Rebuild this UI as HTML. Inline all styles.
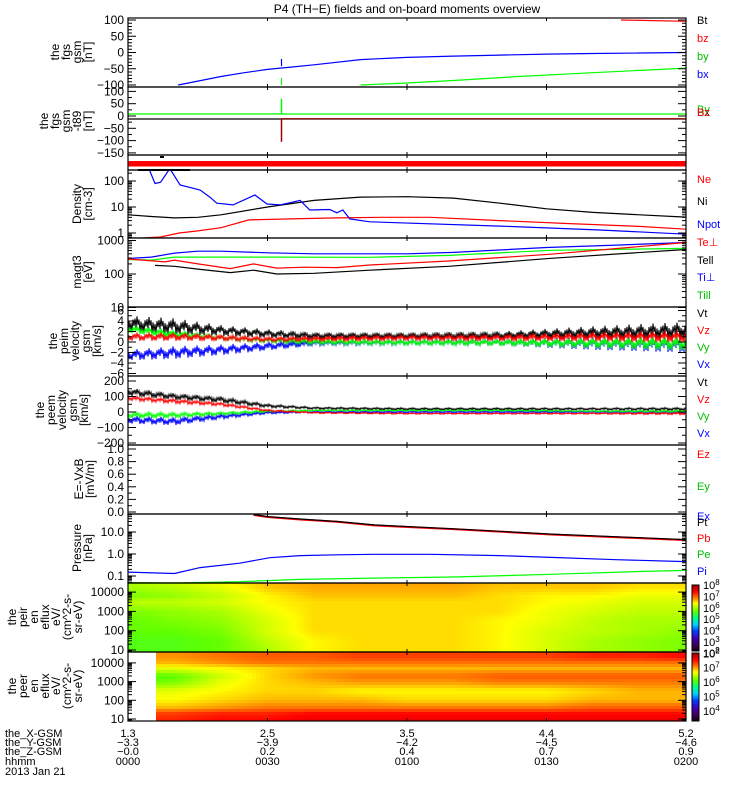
<!DOCTYPE html>
<html><head><meta charset="utf-8"><style>
html,body{margin:0;padding:0;background:#fff}
svg{display:block;font-family:"Liberation Sans",sans-serif}
</style></head><body>
<svg id="chart" width="750" height="800" viewBox="0 0 750 800" xmlns="http://www.w3.org/2000/svg">
<rect width="750" height="800" fill="#fff"/>
<text x="407" y="13" font-size="12" text-anchor="middle">P4 (TH−E) fields and on-board moments overview</text>
<g id="layer"></g>
</svg>
<script>
// ---------- data (time in minutes from 00:00) ----------
const timeTicks = [0, 30, 60, 90, 120];
const posX = ['1.3','2.5','3.5','4.4','5.2'];
const posY = ['-3.3','-3.9','-4.2','-4.5','-4.6'];
const posZ = ['-0.0','0.2','0.4','0.7','0.9'];
const hhmm = ['0000','0030','0100','0130','0200'];

const bxT = [10.8,15,20,25,30,35,40,50,60,70,80,90,100,110,120];
const bxV = [-100,-88,-74,-62,-52,-45,-38,-22,-15,-11,-8,-5,-3,-1.5,0];
const byT = [50,60,70,84,100,120];
const byV = [-100,-94,-86,-74,-62,-48];
const bzT = [106,120];
const bzV = [100,96];

const dBgT = [0,33,33,120];
const dByV = [8,8,8,8];
const dBxV = [-12,-12,-12,-12];
const spikeT = 33;
const spikeBy = 70;
const spikeBz = -105;

const niT = [0,5,10,15,20,30,40,50,60,70,80,90,100,110,120];
const niV = [5,4.3,3.8,4,5,10,18,24,25,22,14,8.5,6.2,5,4.1];
const neT = [0,7,11,15,20,26,35,45,55,65,80,95,110,120];
const neV = [0.6,0.7,1.0,1.2,1.6,3.2,3.5,3.8,4,4,3,2.3,1.8,1.4];
const npT = [4.5,5.8,7,9,11.2,15.5,17.6,19.1,22.6,27.3,29.9,32.7,37,39.1,43.4,44.9,46.2,47.7,52,80,101.5,120];
const npV = [300,80,90,300,70,45,24,14,12,29,13,12,18,7.7,8,6,7.7,3.5,2.7,1.85,1.3,0.9];

const tiPerpT = [0,5,10,15,20,30,40,60,70,90,105,120];
const tiPerpV = [290,320,420,480,480,430,400,400,440,620,730,870];
const tiParT = [0,5,10,30,52,69,91,120];
const tiParV = [270,260,320,320,316,360,510,580];
const tePerpT = [0,8,10,15,22,27,32,38,45,52,69,91,120];
const tePerpV = [280,230,260,200,145,200,150,160,155,185,245,390,870];
const teParT = [5.8,10,15,22,27,32,40,52,69,91,120];
const teParV = [180,170,140,110,130,100,105,130,170,295,540];

const velT = [0,10,20,30,40,60,80,100,120];
const vtC = [3.5,3,2.2,1.6,1.2,1.2,1.3,1.8,2.2];
const vtW = [1.5,1.5,1,0.8,0.6,0.6,0.7,1.2,1.6];
const vzC = [1,1,0.8,0.5,0.6,0.8,0.8,1.0,1.0];
const vzW = [0.8,0.8,0.6,0.5,0.5,0.5,0.6,0.9,1.1];
const vyC = [2.5,1.5,0.8,0.3,0,-0.1,-0.1,-0.2,-0.3];
const vyW = [0.8,0.8,0.6,0.5,0.5,0.5,0.6,1.0,1.3];
const vxC = [-2.5,-2.0,-1.5,-0.8,-0.2,-0.1,-0.1,-0.3,-0.5];
const vxW = [1,1.2,1,0.8,0.5,0.5,0.6,1.2,1.5];

const evtC = [130,100,80,40,25,20,20,20,20];
const evtW = [25,20,20,12,8,8,8,8,10];
const evzC = [90,70,50,10,-5,-10,-10,-10,-10];
const evzW = [15,15,12,8,5,5,5,5,8];
const evyC = [-20,-20,-10,5,10,10,10,5,5];
const evyW = [20,18,12,8,5,5,5,5,8];
const evxC = [-50,-60,-30,-5,0,0,0,0,0];
const evxW = [25,25,15,8,5,5,5,5,8];

const piT = [0,10,15.5,24,30.5,37,45,53,65,80,91,105,120];
const piV = [0.15,0.13,0.24,0.38,0.68,0.85,0.92,0.97,0.97,0.85,0.7,0.55,0.45];
const peT = [0,10,24,37,53,70,91,110,120];
const peV = [0.05,0.048,0.055,0.07,0.08,0.09,0.12,0.16,0.18];
const ptT = [27,30,37,45,53,70,91,110,120];
const ptV = [62,50,39,30,21,14,8,5.5,4.5];
const pbV = [60,48,37,29,20,13.5,7.7,5.3,4.3];

const specT = [0,10,20,30,40,50,60,70,80,90,100,110,120];
const ionE = [1.0,1.5,2.0,2.5,3.0,3.5,3.8,4.3];
const ionFlux = [
[5.6,5.6,5.7,6.0,6.4,6.5,6.5,6.5,6.4,6.2,6.0,5.9,5.8],
[5.6,5.6,5.7,6.1,6.4,6.5,6.5,6.5,6.4,6.2,6.0,5.9,5.8],
[5.7,5.7,5.8,6.2,6.5,6.5,6.5,6.5,6.4,6.2,6.1,6.0,5.9],
[5.7,5.8,5.9,6.2,6.5,6.5,6.5,6.5,6.4,6.3,6.1,6.0,6.0],
[5.8,5.9,6.0,6.3,6.5,6.5,6.5,6.5,6.5,6.3,6.2,6.1,6.1],
[6.1,6.1,6.2,6.4,6.5,6.5,6.5,6.5,6.5,6.4,6.3,6.2,6.2],
[5.8,5.9,6.1,6.4,6.6,6.6,6.6,6.6,6.5,6.4,6.4,6.3,6.3],
[6.0,6.1,6.3,6.6,6.7,6.7,6.7,6.7,6.6,6.6,6.6,6.5,6.5]];
const eleStart = 5.8;
const eleE = [1.0,1.3,1.6,2.0,2.5,3.0,3.3,3.7,4.0,4.3];
const eleFlux = [
[7.4,7.4,7.5,7.5,7.6,7.6,7.6,7.6,7.6,7.6,7.6,7.6,7.6],
[7.3,7.3,7.4,7.4,7.5,7.5,7.5,7.5,7.5,7.5,7.5,7.5,7.5],
[6.9,6.9,7.0,7.1,7.1,7.1,7.1,7.1,7.1,7.1,7.2,7.2,7.2],
[6.7,6.7,6.8,6.9,6.9,6.9,6.8,6.8,6.8,6.8,6.9,6.9,6.9],
[6.6,6.6,6.7,6.8,6.8,6.7,6.7,6.7,6.7,6.7,6.8,6.9,6.9],
[6.1,6.2,6.6,6.8,6.9,7.0,7.0,7.0,7.1,7.1,7.1,7.1,7.1],
[6.0,6.1,6.5,6.8,7.0,7.1,7.1,7.1,7.2,7.2,7.2,7.2,7.2],
[6.6,6.6,6.7,6.8,6.9,6.9,6.9,6.9,6.9,6.9,6.9,6.9,6.9],
[6.9,6.9,7.0,7.1,7.1,7.1,7.1,7.1,7.1,7.1,7.1,7.1,7.1],
[7.0,7.0,7.1,7.2,7.2,7.3,7.3,7.3,7.3,7.3,7.4,7.4,7.5]];

// ---------- helpers ----------
const NS = 'http://www.w3.org/2000/svg';
const layer = document.getElementById('layer');
const X0 = 128, X1 = 686;
function xT(t){ return X0 + t/120*(X1-X0); }
function el(tag, attrs, parent){
  const e = document.createElementNS(NS, tag);
  for (const k in attrs) e.setAttribute(k, attrs[k]);
  (parent||layer).appendChild(e);
  return e;
}
function txt(s, x, y, opts, parent){
  const e = el('text', Object.assign({x:x, y:y, 'font-size':11}, opts||{}), parent);
  e.textContent = s;
  return e;
}
const panels = {
  p1:[18,87], p2:[87,155], p3:[155,170], p4:[170,238], p5:[238,307], p6:[307,376],
  p7:[376,445], p8:[445,514], p9:[514,583], p10:[583,652], p11:[652,721]
};
for (const k in panels){
  const [a,b] = panels[k];
  const cp = el('clipPath', {id:'clip-'+k});
  el('rect', {x:X0, y:a, width:X1-X0, height:b-a}, cp);
}
const sc = {
  p1: v => 52.5 - v*0.325,
  p2: v => 116 - v*0.246,
  p4: v => 233 - 26*Math.log10(v),
  p5: v => 240.5 - 33.5*(Math.log10(v)-3),
  p6: v => 342 - 5.25*v,
  p7: v => 412 - 0.155*v,
  p8: v => 512 - 63*v,
  p9: v => 554 - 22*Math.log10(v),
  p10: e => 650 - 19.3*(e-1),
  p11: e => 719 - 18.7*(e-1)
};
function line(p, ts, vs, color, name, w){
  const pts = ts.map((t,i) => xT(t).toFixed(1)+','+sc[p](vs[i]).toFixed(1)).join(' ');
  const e = el('polyline', {points:pts, fill:'none', stroke:color, 'stroke-width':w||1.2, 'clip-path':'url(#clip-'+p+')'});
  
  
  return e;
}
function interp(ts, vs, t){
  if (t <= ts[0]) return vs[0];
  for (let i=1;i<ts.length;i++) if (t <= ts[i]) { const f=(t-ts[i-1])/(ts[i]-ts[i-1]); return vs[i-1]+f*(vs[i]-vs[i-1]); }
  return vs[vs.length-1];
}
const jag = [1,0.35,0.8,0.15,0.95,0.55,0.25,0.7,0.45,1,0.1,0.6];
function noisy(p, cs, ws, color, name){
  let pts = [];
  let i = 0;
  for (let x = X0; x <= X1; x += 1, i++){
    const t = (x-X0)/(X1-X0)*120;
    const c = interp(velT, cs, t), w = interp(velT, ws, t);
    const s = (i%2 ? 1 : -1) * jag[i%jag.length];
    pts.push(x+','+sc[p](c + s*w).toFixed(1));
  }
  const e = el('polyline', {points:pts.join(' '), fill:'none', stroke:color, 'stroke-width':1, 'clip-path':'url(#clip-'+p+')'});
  
  
}
// colormap
const cmStops = [[0,[16,0,16]],[0.1,[64,0,96]],[0.2,[64,0,192]],[0.3,[0,64,255]],[0.4,[0,208,255]],[0.5,[0,255,128]],[0.6,[96,255,0]],[0.72,[255,255,0]],[0.8,[255,128,0]],[0.9,[255,0,0]],[1,[160,0,0]]];
function cmap(f){
  f = Math.max(0, Math.min(1, f));
  for (let i=1;i<cmStops.length;i++) if (f <= cmStops[i][0]){
    const [a,ca]=cmStops[i-1], [b,cb]=cmStops[i]; const g=(f-a)/(b-a);
    return 'rgb('+ca.map((v,j)=>Math.round(v+g*(cb[j]-v))).join(',')+')';
  }
  return 'rgb(160,0,0)';
}
function spectro(p, eGrid, flux, lo, hi, tStart, name){
  const [a,b] = panels[p];
  const g = el('g', {'clip-path':'url(#clip-'+p+')'});
  
  
  const cw = 4, ch = 3;
  for (let x = X0; x < X1; x += cw){
    const t = (x+cw/2-X0)/(X1-X0)*120;
    if (t < tStart) continue;
    for (let y = a; y < b; y += ch){
      // invert scale to get log energy
      const yc = y + ch/2;
      let lo2 = 0, hi2 = 6; for (let k=0;k<30;k++){ const m=(lo2+hi2)/2; if (sc[p](m) > yc) lo2=m; else hi2=m; }
      const e = (lo2+hi2)/2;
      const col = eGrid.map((_,r)=>interp(specT, flux[r], t));
      const v = interp(eGrid, col, e);
      el('rect', {x:x, y:y, width:cw+0.5, height:ch+0.5, fill:cmap((v-lo)/(hi-lo))}, g);
    }
  }
}
// axes
function axes(p, majors, labels, minors, name){
  const [a,b] = panels[p];
  const g = el('g', {});
  
  
  el('rect', {x:X0, y:a, width:X1-X0, height:b-a, fill:'none', stroke:'#000', 'stroke-width':1.2}, g);
  timeTicks.forEach(t => {
    const x = xT(t);
    el('line', {x1:x, x2:x, y1:a, y2:a+3, stroke:'#000'}, g);
    el('line', {x1:x, x2:x, y1:b, y2:b-3, stroke:'#000'}, g);
  });
  (majors||[]).forEach((v,i) => {
    const y = sc[p](v);
    el('line', {x1:X0, x2:X0+8, y1:y, y2:y, stroke:'#000', 'stroke-width':1}, g);
    el('line', {x1:X1, x2:X1-8, y1:y, y2:y, stroke:'#000', 'stroke-width':1}, g);
    if (labels) txt(labels[i], 124, y+4, {'text-anchor':'end', 'font-size':12}, g);
  });
  (minors||[]).forEach(v => {
    const y = sc[p](v);
    if (y < a || y > b) return;
    el('line', {x1:X0, x2:X0+4, y1:y, y2:y, stroke:'#000', 'stroke-width':1}, g);
    el('line', {x1:X1, x2:X1-4, y1:y, y2:y, stroke:'#000', 'stroke-width':1}, g);
  });
}
function logMinors(d0, d1){ const r=[]; for (let d=d0; d<=d1; d++) for (let m=2;m<=9;m++) r.push(m*Math.pow(10,d)); return r; }
function logEMinors(d0,d1){ return logMinors(d0,d1).map(v=>Math.log10(v)); }
function ylab(lines, xr, cy, name){
  const g = el('text', {transform:'translate('+xr+','+cy+') rotate(-90)', 'font-size':12, 'text-anchor':'middle'});
  
  
  lines.forEach((s,i) => {
    const ts = el('tspan', {x:0, y:-(lines.length-1-i)*11}, g);
    ts.textContent = s;
  });
}
function rlab(s, y, color, name){
  const e = txt(s, 697, y, {fill:color, 'font-size':11});
  
  
}

// ---------- spectrograms ----------
spectro('p10', ionE, ionFlux, 2.2, 8, -1, 'ion-energy-spectrogram');
spectro('p11', eleE, eleFlux, 3.3, 8, eleStart, 'electron-energy-spectrogram');

// ---------- panel 1 ----------
line('p1', bxT, bxV, '#0000ff', 'bx-line');
line('p1', byT, byV, '#00ff00', 'by-line');
line('p1', bzT, bzV, '#ff0000', 'bz-line');
line('p1', [spikeT,spikeT], [-42,-20], '#0000ff', 'bx-spike');
line('p1', [spikeT,spikeT], [-100,-78], '#00ff00', 'by-spike');
// panel 2
line('p2', dBgT, dByV, '#00ff00', 'dby-line');
line('p2', dBgT, dBxV, '#000000', 'dbx-line');
line('p2', [33,120], [-11,-11], '#a00000', 'dbz-line');
line('p2', [spikeT,spikeT], [8,spikeBy], '#00ff00', 'dby-spike', 1.5);
line('p2', [spikeT,spikeT], [-11,spikeBz], '#a00000', 'dbz-spike', 1.5);
// panel 3
el('rect', {x:X0, y:161, width:X1-X0, height:5.5, fill:'#ff0000',  });
el('rect', {x:160, y:156, width:4, height:2, fill:'#000',  });
// panel 4
el('line', {x1:138, x2:190, y1:170, y2:170, stroke:'#000', 'stroke-width':2,  });
line('p4', niT, niV, '#000000', 'ni-line');
line('p4', neT, neV, '#ff0000', 'ne-line');
line('p4', npT, npV, '#0000ff', 'npot-line');
// panel 5
line('p5', tiPerpT, tiPerpV, '#0000ff', 'ti-perp-line');
line('p5', tiParT, tiParV, '#00ff00', 'ti-par-line');
line('p5', tePerpT, tePerpV, '#ff0000', 'te-perp-line');
line('p5', teParT, teParV, '#000000', 'te-par-line');
// panel 6
noisy('p6', vtC, vtW, '#000000', 'peim-vt');
noisy('p6', vxC, vxW, '#0000ff', 'peim-vx');
noisy('p6', vyC, vyW, '#00ff00', 'peim-vy');
noisy('p6', vzC, vzW, '#ff0000', 'peim-vz');
// panel 7
noisy('p7', evtC, evtW, '#000000', 'peem-vt');
noisy('p7', evxC, evxW, '#0000ff', 'peem-vx');
noisy('p7', evyC, evyW, '#00ff00', 'peem-vy');
noisy('p7', evzC, evzW, '#ff0000', 'peem-vz');
// panel 9
line('p9', piT, piV, '#0000ff', 'pi-line');
line('p9', peT, peV, '#00ff00', 'pe-line');
line('p9', ptT, pbV, '#ff0000', 'pb-line', 2);
line('p9', ptT, ptV, '#000000', 'pt-line');

// ---------- axes ----------
axes('p1', [100,50,0,-50,-100], ['100','50','0','−50','−100'], [90,80,70,60,40,30,20,10,-10,-20,-30,-40,-60,-70,-80,-90], 'fgs-axes');
axes('p2', [100,50,0,-50,-100,-150], ['100','50','0','−50','−100','−150'], [75,25,-25,-75,-125], 'fgs-t89-axes');
axes('p3', [], null, [], 'flag-axes');
axes('p4', [1,10,100], ['1','10','100'], logMinors(-1,2), 'density-axes');
axes('p5', [10,100,1000], ['10','100','1000'], logMinors(1,2), 'temperature-axes');
axes('p6', [6,4,2,0,-2,-4,-6], ['6','4','2','0','−2','−4','−6'], [5,3,1,-1,-3,-5], 'peim-velocity-axes');
axes('p7', [200,100,0,-100,-200], ['200','100','0','−100','−200'], [150,50,-50,-150], 'peem-velocity-axes');
axes('p8', [1,0.8,0.6,0.4,0.2,0], ['1.0','0.8','0.6','0.4','0.2','0.0'], [0.9,0.7,0.5,0.3,0.1], 'efield-axes');
axes('p9', [0.1,1,10], ['0.1','1.0','10.0'], logMinors(-2,1), 'pressure-axes');
axes('p10', [1,2,3,4], ['10','100','1000','10000'], logEMinors(0,3), 'ion-spectrogram-axes');
axes('p11', [1,2,3,4], ['10','100','1000','10000'], logEMinors(0,3), 'electron-spectrogram-axes');

// ---------- y labels ----------
ylab(['the','fgs','gsm','[nT]'], 92, 52, 'fgs-y-title');
ylab(['the','fgs','gsm','-t89','[nT]'], 92, 121, 'fgs-t89-y-title');
ylab(['Density','[cm-3]'], 92, 204, 'density-y-title');
ylab(['magt3','[eV]'], 92, 272, 'temperature-y-title');
ylab(['the','peim','velocity','gsm','[km/s]'], 101, 341, 'peim-y-title');
ylab(['the','peem','velocity','gsm','[km/s]'], 88, 410, 'peem-y-title');
ylab(['E=-VxB','[mV/m]'], 94, 479, 'efield-y-title');
ylab(['Pressure','[nPa]'], 92, 548, 'pressure-y-title');
ylab(['the','peir','en','eflux','eV/','(cm^2-s-','sr-eV)'], 82, 617, 'ion-spectrogram-y-title');
ylab(['the','peer','en','eflux','eV/','(cm^2-s-','sr-eV)'], 82, 686, 'electron-spectrogram-y-title');

// ---------- right labels ----------
rlab('Bt',24,'#000','legend-bt'); rlab('bz',42,'#ff0000','legend-bz'); rlab('by',60,'#00c000','legend-by'); rlab('bx',78,'#0000ff','legend-bx');
rlab('Bx',116,'#000','legend-dbx'); rlab('By',113,'#00c000','legend-dby'); rlab('Bz',116,'#ff0000','legend-dbz');
rlab('Ne',183,'#ff0000','legend-ne'); rlab('Ni',205,'#000','legend-ni'); rlab('Npot',228,'#0000ff','legend-npot');
rlab('Te⊥',246,'#ff0000','legend-te-perp'); rlab('Tell',264,'#000','legend-te-par'); rlab('Ti⊥',281,'#0000ff','legend-ti-perp'); rlab('Till',299,'#00c000','legend-ti-par');
rlab('Vt',317,'#000','legend-peim-vt'); rlab('Vz',334,'#ff0000','legend-peim-vz'); rlab('Vy',351,'#00c000','legend-peim-vy'); rlab('Vx',368,'#0000ff','legend-peim-vx');
rlab('Vt',386,'#000','legend-peem-vt'); rlab('Vz',403,'#ff0000','legend-peem-vz'); rlab('Vy',420,'#00c000','legend-peem-vy'); rlab('Vx',437,'#0000ff','legend-peem-vx');
rlab('Ez',458,'#ff0000','legend-ez'); rlab('Ey',490,'#00c000','legend-ey'); rlab('Ex',520,'#0000ff','legend-ex');
rlab('Pt',526,'#000','legend-pt'); rlab('Pb',542,'#ff0000','legend-pb'); rlab('Pe',558,'#00c000','legend-pe'); rlab('Pi',575,'#0000ff','legend-pi');

// ---------- colorbars ----------
function colorbar(y0, y1, lo, hi, ticks, name){
  const g = el('g', {});
  
  
  for (let y = y0; y < y1; y++){
    const v = hi - (y - y0 + 0.5)/(y1-y0)*(hi-lo);
    el('rect', {x:692, y:y, width:7, height:1.2, fill:cmap((v-lo)/(hi-lo))}, g);
  }
  el('rect', {x:692, y:y0, width:7, height:y1-y0, fill:'none', stroke:'#000', 'stroke-width':1}, g);
  ticks.forEach(k => {
    const y = y0 + (hi-k)/(hi-lo)*(y1-y0);
    const t = el('text', {x:703, y:y+4, 'font-size':11}, g);
    t.textContent = '10';
    const s = el('tspan', {dy:-4, 'font-size':8}, t);
    s.textContent = String(k);
  });
}
colorbar(585, 651, 2.2, 8, [8,7,6,5,4,3,2], 'ion-colorbar');
colorbar(653, 721, 3.3, 8, [8,7,6,5,4], 'electron-colorbar');

// ---------- bottom position labels ----------
const rowsY = [737, 746, 755, 765];
const rowNames = ['the_X-GSM','the_Y-GSM','the_Z-GSM','hhmm'];
const rowVals = [posX, posY, posZ, hhmm];
rowNames.forEach((n,r) => {
  const e = txt(n, 5, rowsY[r], {'font-size':11});
  
  
  timeTicks.forEach((t,i) => {
    const v = txt(rowVals[r][i].replace('-', '−'), xT(t), rowsY[r], {'font-size':11, 'text-anchor':'middle'});
    
    
  });
});
const dl = txt('2013 Jan 21', 5, 775, {'font-size':11});


</script>
</body></html>
